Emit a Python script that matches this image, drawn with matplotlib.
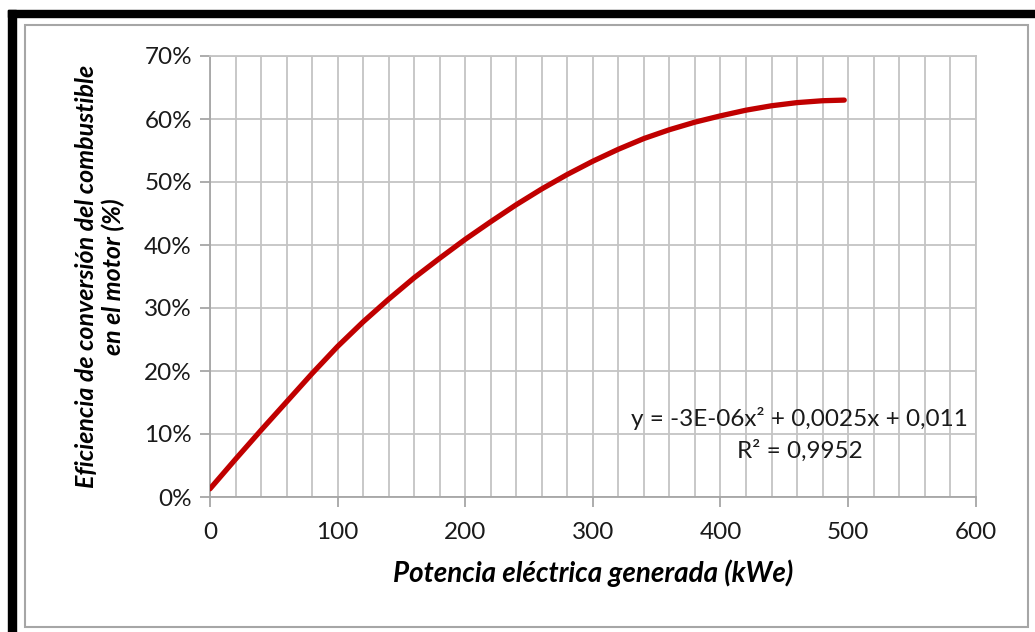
import matplotlib.pyplot as plt
from matplotlib.patches import Rectangle
from matplotlib.ticker import MultipleLocator, PercentFormatter

# values
potencia = [0, 20, 40, 60, 80, 100, 120, 140, 160, 180, 200, 220, 240, 260, 280,
            300, 320, 340, 360, 380, 400, 420, 440, 460, 480, 497]
eficiencia = [1.3, 6.0, 10.6, 15.1, 19.6, 23.9, 27.8, 31.4, 34.8, 37.9, 40.9, 43.7,
              46.4, 48.9, 51.2, 53.3, 55.2, 56.9, 58.3, 59.5, 60.5, 61.4, 62.1,
              62.6, 62.9, 63.0]

ecuacion = "y = -3E-06x² + 0,0025x + 0,011"
r2 = "R² = 0,9952"

W, H = 1035, 632
fig = plt.figure(figsize=(W / 100, H / 100), dpi=100)
plt.rcParams['font.family'] = ['Lato', 'DejaVu Sans']

# thick black frame (top and left) and thin gray chart border
fig.patches.append(Rectangle((8 / W, 1 - 17 / H), 1, 7 / H, transform=fig.transFigure,
                             color='black', zorder=0))
fig.patches.append(Rectangle((8 / W, 0), 8 / W, 1 - 10 / H, transform=fig.transFigure,
                             color='black', zorder=0))
fig.patches.append(Rectangle((25 / W, 5 / H), 1003 / W, 1 - 30 / H, transform=fig.transFigure,
                             fill=False, edgecolor='#a6a6a6', linewidth=1.5, zorder=0))

ax = fig.add_axes([210 / W, 1 - 497 / H, 765.7 / W, 441 / H])
gray = '#a6a6a6'
grid = '#c4c4c4'

ax.plot(potencia, eficiencia, color='#c00000', linewidth=3.8, solid_capstyle='round',
        solid_joinstyle='round', zorder=3)

ax.set_xlim(0, 600)
ax.set_ylim(0, 70)
ax.xaxis.set_major_locator(MultipleLocator(100))
ax.xaxis.set_minor_locator(MultipleLocator(20))
ax.yaxis.set_major_locator(MultipleLocator(10))
ax.yaxis.set_major_formatter(PercentFormatter(decimals=0))
ax.grid(which='both', axis='x', color=grid, linewidth=1.3)
ax.grid(which='major', axis='y', color=grid, linewidth=1.3)
ax.set_axisbelow(True)

for s in ax.spines.values():
    s.set_color(grid)
    s.set_linewidth(1.3)
ax.spines['left'].set_color(gray)
ax.spines['bottom'].set_color(gray)

ax.tick_params(which='major', length=7, width=1.3, color=gray, labelsize=17.5,
               labelcolor='#1a1a1a', pad=6)
ax.tick_params(which='minor', length=0)
ax.tick_params(axis='x', pad=11)

ax.set_xlabel('Potencia eléctrica generada (kWe)', fontsize=20, fontweight='bold',
              fontstyle='italic', labelpad=12)
ax.set_ylabel('Eficiencia de conversión del combustible\nen el motor (%)', fontsize=18,
              fontweight='bold', fontstyle='italic', labelpad=14, linespacing=1.15)

ax.text(462, 12.5, ecuacion, fontsize=17.5, ha='center', va='center', color='#1a1a1a')
ax.text(462, 7.4, r2, fontsize=17.5, ha='center', va='center', color='#1a1a1a')

fig.savefig('out.png', dpi=100)
